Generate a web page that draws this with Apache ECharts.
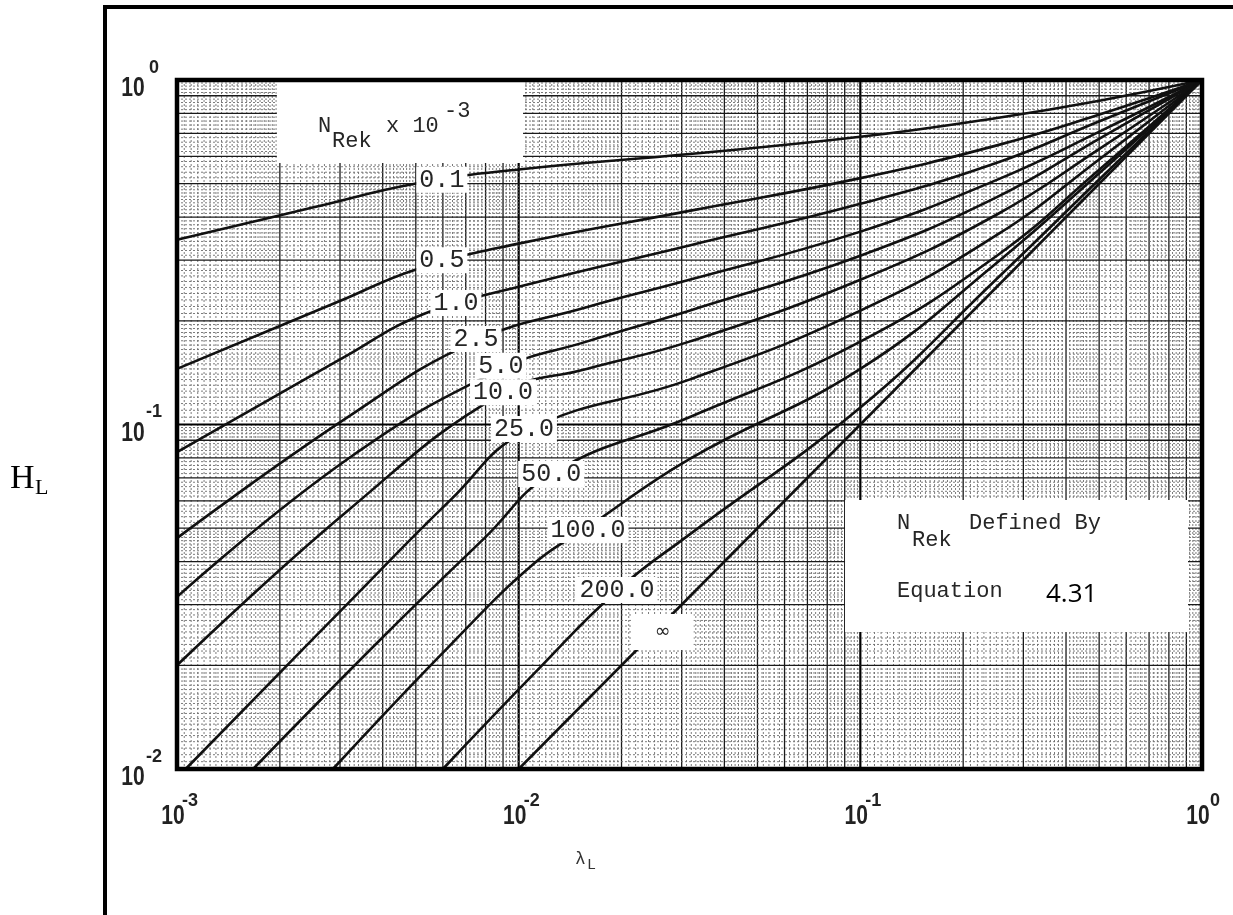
<!DOCTYPE html>
<html><head><meta charset="utf-8">
<script src="https://cdn.jsdelivr.net/npm/echarts@6/dist/echarts.min.js"></script>
<style>html,body{margin:0;padding:0;background:#fff}#c{width:1233px;height:915px}</style>
</head><body><div id="c"></div>
<script>
// ---- data ----
const xTicks = [0.001, 0.01, 0.1, 1];
const xTickExp = ['-3', '-2', '-1', '0'];
const yTicks = [0.01, 0.1, 1];
const yTickExp = ['-2', '-1', '0'];
const curveNames = ['0.1', '0.5', '1.0', '2.5', '5.0', '10.0', '25.0', '50.0', '100.0', '200.0', '\u221E'];
const c_0_1 = [[0.001,0.344],[0.00251,0.427],[0.00501,0.501],[0.01,0.55],[0.0316,0.61],[0.1,0.684],[0.251,0.776],[0.501,0.871],[1,1]];
const c_0_5 = [[0.001,0.145],[0.00302,0.229],[0.00501,0.282],[0.01,0.335],[0.0316,0.417],[0.1,0.519],[0.251,0.646],[0.501,0.794],[1,1]];
const c_1_0 = [[0.001,0.0832],[0.00302,0.155],[0.00525,0.209],[0.01,0.251],[0.0316,0.331],[0.1,0.437],[0.251,0.575],[0.501,0.759],[1,1]];
const c_2_5 = [[0.001,0.0468],[0.00316,0.105],[0.00741,0.174],[0.0158,0.219],[0.0316,0.263],[0.1,0.363],[0.251,0.513],[0.501,0.708],[1,1]];
const c_5_0 = [[0.001,0.0316],[0.00316,0.0794],[0.00891,0.145],[0.0158,0.174],[0.0316,0.214],[0.1,0.309],[0.251,0.457],[0.501,0.676],[1,1]];
const c_10 = [[0.001,0.02],[0.00316,0.0562],[0.00891,0.123],[0.0158,0.145],[0.0316,0.174],[0.1,0.263],[0.251,0.407],[0.501,0.631],[1,1]];
const c_25 = [[0.00106,0.01],[0.00316,0.0302],[0.00631,0.0603],[0.0105,0.0955],[0.0316,0.135],[0.1,0.214],[0.251,0.355],[0.501,0.589],[1,1]];
const c_50 = [[0.00167,0.01],[0.00398,0.024],[0.00794,0.0468],[0.0126,0.0724],[0.0316,0.105],[0.1,0.174],[0.251,0.309],[0.501,0.55],[1,1]];
const c_100 = [[0.00286,0.01],[0.00631,0.0229],[0.0112,0.0398],[0.0158,0.0501],[0.0316,0.0794],[0.1,0.145],[0.251,0.295],[0.501,0.537],[1,1]];
const c_200 = [[0.006,0.01],[0.0112,0.0191],[0.0195,0.0331],[0.0316,0.0479],[0.1,0.112],[0.251,0.265],[0.501,0.515],[1,1]];
const c_inf = [[0.01,0.01],[1,1]];
const curves = [c_0_1, c_0_5, c_1_0, c_2_5, c_5_0, c_10, c_25, c_50, c_100, c_200, c_inf];
// label anchor positions (data units)
const labelX = [0.00596, 0.00596, 0.00655, 0.0075, 0.00887, 0.0090, 0.01036, 0.01245, 0.01596, 0.0194, 0.0264];
const labelY = [0.513, 0.300, 0.2254, 0.177, 0.148, 0.124, 0.0970, 0.0718, 0.0494, 0.0331, 0.0250];

// ---- graph paper lines (styling only) ----
// kind: 0 = fine, 1 = integer, 2 = decade ; dir: 0 = vertical (x value), 1 = horizontal (y value)
function paper(lo, hi, dir) {
  const out = [];
  for (let d = lo; d < hi; d++) {
    const b = Math.pow(10, d);
    for (let i = 21; i < 40; i++) if (i % 20 !== 0) out.push([i / 20 * b, 0, dir]);
    for (let i = 21; i < 50; i++) if (i % 10 !== 0) out.push([i / 10 * b, 0, dir]);
    for (let i = 26; i < 50; i++) if (i % 5 !== 0) out.push([i / 5 * b, 0, dir]);
    for (let k = 2; k <= 9; k++) out.push([k * b, 1, dir]);
    if (d > lo) out.push([b, 2, dir]);
  }
  return out;
}
const paperLines = paper(-3, 0, 0).concat(paper(-2, 0, 1));
const paperStyle = [
  {stroke: '#6e6e6e', lineWidth: 0.9, lineDash: [2, 2]},
  {stroke: '#1a1a1a', lineWidth: 1.3},
  {stroke: '#000', lineWidth: 2.2}
];

const chart = echarts.init(document.getElementById('c'), null, {renderer: 'canvas'});
const series = [];
series.push({
  type: 'custom', z: 1, silent: true, clip: true,
  data: paperLines,
  encode: {x: -1, y: -1},
  renderItem: function (params, api) {
    const v = api.value(0), kind = api.value(1), dir = api.value(2);
    let a, b;
    if (dir === 0) { a = api.coord([v, 1]); b = api.coord([v, 0.01]); }
    else { a = api.coord([0.001, v]); b = api.coord([1, v]); }
    return {type: 'line', shape: {x1: a[0], y1: a[1], x2: b[0], y2: b[1]}, style: paperStyle[kind], silent: true};
  }
});
curves.forEach((c, i) => {
  series.push({
    name: curveNames[i], type: 'line', data: c, symbol: 'none', smooth: 0.45,
    lineStyle: {color: '#111', width: 2.6}, z: 3, silent: true
  });
});
series.push({
  type: 'scatter', z: 6, symbolSize: 0, silent: true,
  itemStyle: {opacity: 1},
  data: curveNames.map((n, i) => [labelX[i], labelY[i], n]),
  label: {
    show: true, position: 'inside', opacity: 1,
    formatter: p => p.dataIndex === 10 ? '{inf|' + p.data[2] + '}' : p.data[2],
    fontFamily: 'Liberation Mono', fontSize: 25, color: '#262626',
    backgroundColor: '#fff', padding: [1, 3, 0, 3],
    rich: {inf: {fontSize: 19, fontFamily: 'DejaVu Sans', padding: [8, 20, 8, 20], color: '#262626'}}
  }
});

chart.setOption({
  animation: false,
  backgroundColor: '#fff',
  grid: {left: 177, top: 80, width: 1025, height: 689, show: false},
  xAxis: {type: 'log', logBase: 10, min: 0.001, max: 1, axisLine: {show: false}, axisTick: {show: false}, axisLabel: {show: false}, splitLine: {show: false}},
  yAxis: {type: 'log', logBase: 10, min: 0.01, max: 1, axisLine: {show: false}, axisTick: {show: false}, axisLabel: {show: false}, splitLine: {show: false}},
  series: series
});

// ---- annotations ----
const g = [];
const px = (x, y) => chart.convertToPixel({gridIndex: 0}, [x, y]);
// white boxes on the graph paper (data-unit corners)
const boxes = [[0.00196, 1, 0.0103, 0.574], [0.0902, 0.0604, 0.91, 0.025]];
boxes.forEach(bx => {
  const a = px(bx[0], bx[1]), b = px(bx[2], bx[3]);
  g.push({type: 'rect', shape: {x: a[0], y: a[1], width: b[0] - a[0], height: b[1] - a[1]}, style: {fill: '#fff'}, z: 2, silent: true});
});
// outer frame
g.push({type: 'line', shape: {x1: 105, y1: 7, x2: 105, y2: 915}, style: {stroke: '#000', lineWidth: 4}, z: 20});
g.push({type: 'line', shape: {x1: 103, y1: 7, x2: 1233, y2: 7}, style: {stroke: '#000', lineWidth: 4}, z: 20});
// plot border
const p00 = px(0.001, 0.01), p11 = px(1, 1);
g.push({type: 'rect', shape: {x: p00[0], y: p11[1], width: p11[0] - p00[0], height: p00[1] - p11[1]}, style: {fill: null, stroke: '#000', lineWidth: 4.5}, z: 19});
const tickFont = 'bold 27px "Liberation Sans"';
const supFont = 'bold 18px "Liberation Sans"';
xTicks.forEach((v, i) => {
  const p = px(v, 0.01);
  g.push({type: 'text', x: p[0] - 4, y: p[1] + 48, scaleX: 0.78, style: {text: '10', font: tickFont, fill: '#222', align: 'center', verticalAlign: 'middle'}, z: 20});
  g.push({type: 'text', x: p[0] + 13, y: p[1] + 32, style: {text: xTickExp[i], font: supFont, fill: '#222', align: 'center', verticalAlign: 'middle'}, z: 20});
});
yTicks.forEach((v, i) => {
  const p = px(0.001, v);
  g.push({type: 'text', x: p[0] - 44, y: p[1] + 9, scaleX: 0.78, style: {text: '10', font: tickFont, fill: '#222', align: 'center', verticalAlign: 'middle'}, z: 20});
  g.push({type: 'text', x: p[0] - 23, y: p[1] - 12, style: {text: yTickExp[i], font: supFont, fill: '#222', align: 'center', verticalAlign: 'middle'}, z: 20});
});
// axis names
g.push({type: 'text', x: 10, y: 462, style: {text: 'H', font: '34px "Liberation Serif"', fill: '#000'}, z: 20});
g.push({type: 'text', x: 35, y: 477, style: {text: 'L', font: '22px "Liberation Serif"', fill: '#000'}, z: 20});
g.push({type: 'text', x: 575, y: 850, style: {text: '\u03BB', font: '18px "Liberation Mono"', fill: '#333'}, z: 20});
g.push({type: 'text', x: 587, y: 858, style: {text: 'L', font: '15px "Liberation Mono"', fill: '#333'}, z: 20});
// box texts
const mono = '22px "Liberation Mono"';
g.push({type: 'text', x: 318, y: 115, style: {text: 'N', font: mono, fill: '#262626'}, z: 20});
g.push({type: 'text', x: 332, y: 130, style: {text: 'Rek', font: mono, fill: '#262626'}, z: 20});
g.push({type: 'text', x: 386, y: 115, style: {text: 'x 10', font: mono, fill: '#262626'}, z: 20});
g.push({type: 'text', x: 444, y: 100, style: {text: '-3', font: mono, fill: '#262626'}, z: 20});
g.push({type: 'text', x: 897, y: 512, style: {text: 'N', font: mono, fill: '#262626'}, z: 20});
g.push({type: 'text', x: 912, y: 529, style: {text: 'Rek', font: mono, fill: '#262626'}, z: 20});
g.push({type: 'text', x: 969, y: 512, style: {text: 'Defined By', font: mono, fill: '#262626'}, z: 20});
g.push({type: 'text', x: 897, y: 580, style: {text: 'Equation', font: mono, fill: '#262626'}, z: 20});
g.push({type: 'text', x: 1046, y: 582, style: {text: '4.31', font: '26px "Open Sans"', fill: '#000'}, z: 20});
chart.setOption({graphic: {elements: g}});
</script>
</body></html>
